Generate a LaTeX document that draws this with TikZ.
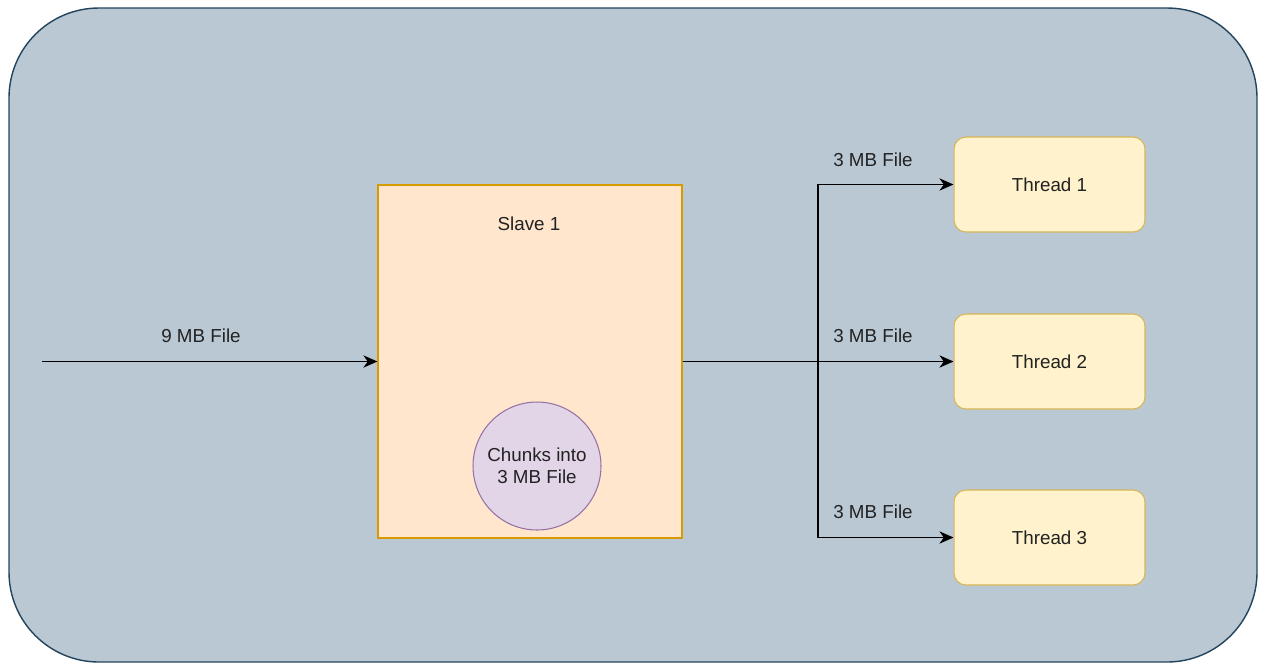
\documentclass[tikz,border=0pt]{standalone}
\usepackage{fontspec}
\setmainfont{Liberation Sans}
\usetikzlibrary{arrows.meta}

\definecolor{outerfill}{HTML}{BAC8D3}
\definecolor{outerline}{HTML}{23445D}
\definecolor{slavefill}{HTML}{FFE6CC}
\definecolor{slaveline}{HTML}{D79B00}
\definecolor{chunkfill}{HTML}{E1D5E7}
\definecolor{chunkline}{HTML}{9673A6}
\definecolor{threadfill}{HTML}{FFF2CC}
\definecolor{threadline}{HTML}{D6B656}
\definecolor{txt}{HTML}{222222}

\tikzset{
  every node/.style={font=\fontsize{10.7}{12.8}\selectfont, text=txt},
  threadbox/.style={draw=threadline, fill=threadfill, rounded corners=6.8pt,
    minimum width=3.82cm, minimum height=1.9cm, line width=0.6pt},
  flow/.style={-{Stealth[length=8pt,width=7pt,inset=2.5pt]}, line width=0.8pt, black},
}

\begin{document}
\begin{tikzpicture}[x=0.02cm, y=-0.02cm]
\useasboundingbox (0,0) rectangle (1267,664);
% outer panel
\draw[draw=outerline, fill=outerfill, line width=0.8pt, rounded corners=1.8cm]
  (9,8) rectangle (1257,662);
% slave box
\node[draw=slaveline, fill=slavefill, line width=0.7pt, minimum width=6.08cm,
  minimum height=7.06cm] (slave) at (530,361.5) {};
\node (slavelbl) at (529,224) {Slave 1};
\node[circle, draw=chunkline, fill=chunkfill, minimum size=2.56cm, inner sep=0pt,
  align=center, line width=0.6pt] (chunk) at (537,466) {Chunks into\\3 MB File};
% threads
\node[threadbox] (t1) at (1049.5,184.5) {Thread 1};
\node[threadbox] (t2) at (1049.5,361.5) {Thread 2};
\node[threadbox] (t3) at (1049.5,537.5) {Thread 3};
% input
\coordinate (src) at (42,361.5);
\draw[flow] (src) -- (slave.west);
\node (inlbl) at (201,336) {9 MB File};
% split to threads
\coordinate (split) at (818,361.5);
\draw[line width=0.8pt] (slave.east) -- (split);
\draw[flow] (split) |- (t1.west);
\draw[flow] (split) -- (t2.west);
\draw[flow] (split) |- (t3.west);
\node (l1) at (873,160) {3 MB File};
\node (l2) at (873,336) {3 MB File};
\node (l3) at (873,512) {3 MB File};
\end{tikzpicture}
\end{document}
